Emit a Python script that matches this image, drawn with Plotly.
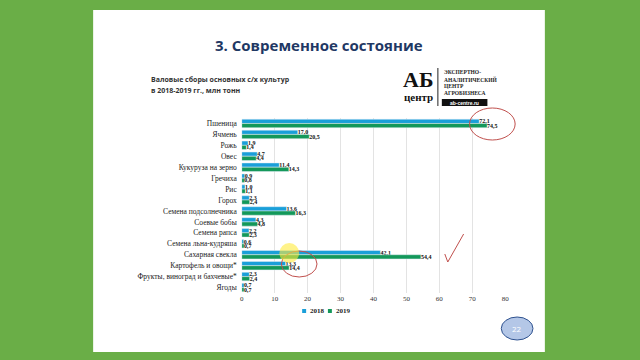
import plotly.graph_objects as go

categories = ["Пшеница", "Ячмень", "Рожь", "Овес", "Кукуруза на зерно", "Гречиха", "Рис", "Горох",
              "Семена подсолнечника", "Соевые бобы", "Семена рапса", "Семена льна-кудряша",
              "Сахарная свекла", "Картофель и овощи*", "Фрукты, виноград и бахчевые*", "Ягоды"]
v2018 = [72.1, 17.0, 1.9, 4.7, 11.4, 0.9, 1.0, 2.3, 13.6, 4.3, 2.2, 0.6, 42.1, 13.3, 2.3, 0.7]
v2019 = [74.5, 20.5, 1.4, 4.4, 14.3, 0.8, 1.1, 2.4, 16.3, 4.8, 2.3, 0.7, 54.4, 14.4, 2.4, 0.7]
x_ticks = [0, 10, 20, 30, 40, 50, 60, 70, 80]
series_names = ["2018", "2019"]
series_colors = ["#1a9fd9", "#13985a"]
logo_lines = ["ЭКСПЕРТНО-", "АНАЛИТИЧЕСКИЙ", "ЦЕНТР", "АГРОБИЗНЕСА"]

def fmt(v):
    return "<b>" + f"{v:.1f}".replace(".", ",") + "</b>"

W, H = 640, 360
def px(x): return x / W
def py(y): return 1 - y / H

serif = "Liberation Serif"
fig = go.Figure()
for name, vals, col in zip(series_names, [v2018, v2019], series_colors):
    fig.add_trace(go.Bar(y=categories, x=vals, orientation="h", name=name,
                         marker_color=col, text=[fmt(v) for v in vals],
                         textposition="outside", cliponaxis=False, showlegend=False,
                         constraintext="none",
                         textfont=dict(family=serif, size=6, color="#111")))

shapes = [
    dict(type="rect", xref="paper", yref="paper", x0=px(92), x1=px(548), y0=py(352), y1=py(10),
         fillcolor="white", line=dict(width=0), layer="below"),
    # hand-drawn marks
    dict(type="circle", xref="paper", yref="paper", x0=px(472), x1=px(518), y0=py(140), y1=py(108),
         line=dict(color="#c0504d", width=1)),
    dict(type="circle", xref="paper", yref="paper", x0=px(282), x1=px(318), y0=py(277), y1=py(251),
         line=dict(color="#c0504d", width=1)),
    dict(type="path", xref="paper", yref="paper",
         path=f"M {px(447)} {py(254)} L {px(450)} {py(262)} L {px(466)} {py(234)}",
         line=dict(color="#c0504d", width=1)),
    dict(type="circle", xref="paper", yref="paper", x0=px(280), x1=px(300), y0=py(263), y1=py(243),
         fillcolor="rgba(255,235,60,0.6)", line=dict(width=0)),
    # page number
    dict(type="circle", xref="paper", yref="paper", x0=px(504), x1=px(536), y0=py(340), y1=py(317),
         fillcolor="#b4c7e7", line=dict(color="#2f528f", width=1)),
    # logo
    dict(type="line", xref="paper", yref="paper", x0=px(440), x1=px(440), y0=py(106), y1=py(68),
         line=dict(color="#222", width=1)),
    dict(type="rect", xref="paper", yref="paper", x0=px(444), x1=px(490), y0=py(106), y1=py(99),
         fillcolor="#111", line=dict(width=0)),
]

def ann(text, x, y, size, family="Open Sans", color="#111", xanchor="center", **kw):
    return dict(text=text, x=px(x), y=py(y), xref="paper", yref="paper", showarrow=False,
                xanchor=xanchor, yanchor="middle", font=dict(family=family, size=size, color=color), **kw)

annotations = [
    ann("<b>3. Современное состояние</b>", 320, 45, 15, color="#1f3864"),
    ann("<b>Валовые сборы основных с/х культур</b>", 148, 79, 7, color="#333", xanchor="left"),
    ann("<b>в 2018-2019 гг., млн тонн</b>", 148, 90, 7, color="#333", xanchor="left"),
    ann("<b>АБ</b>", 420, 79, 22, family=serif),
    ann("<b>центр</b>", 420, 97, 11, family=serif),
    ann("<b>ab-centre.ru</b>", 467, 102.5, 5, family="Liberation Sans", color="white"),
    ann("22", 520, 328.5, 8, color="white"),
]
for i, t in enumerate(logo_lines):
    annotations.append(ann("<b>" + t + "</b>", 444, 72 + 7 * i, 5.5, family=serif, color="#222",
                           xanchor="left"))

# legend drawn manually (compact, like the reference)
for i, (name, col) in enumerate(zip(series_names, series_colors)):
    x0 = 303 + 26 * i
    shapes.append(dict(type="rect", xref="paper", yref="paper", x0=px(x0), x1=px(x0 + 4),
                       y0=py(313), y1=py(309), fillcolor=col, line=dict(width=0)))
    annotations.append(ann("<b>" + name + "</b>", x0 + 6, 311, 7, family=serif, color="#222",
                           xanchor="left"))

fig.update_layout(
    width=W, height=H, margin=dict(l=0, r=0, t=0, b=0),
    paper_bgcolor="#6aae47", plot_bgcolor="white",
    barmode="group", bargap=0.22, bargroupgap=0,
    showlegend=False,
    xaxis=dict(domain=[px(242), px(508)], range=[0, 80], tickvals=x_ticks,
               showgrid=True, gridcolor="#e3e3e3", gridwidth=1, zeroline=False,
               tickfont=dict(family=serif, size=7, color="#333"), ticks="", showline=False),
    yaxis=dict(domain=[py(293), py(118)], autorange="reversed", showgrid=False,
               tickfont=dict(family=serif, size=7.5, color="#222"), ticks="", ticklabelstandoff=4,
               showline=False),
    shapes=shapes, annotations=annotations,
)
fig.write_html("out.html", config={"displayModeBar": False},
               post_script="document.body.style.margin='0';document.body.style.overflow='hidden';")
